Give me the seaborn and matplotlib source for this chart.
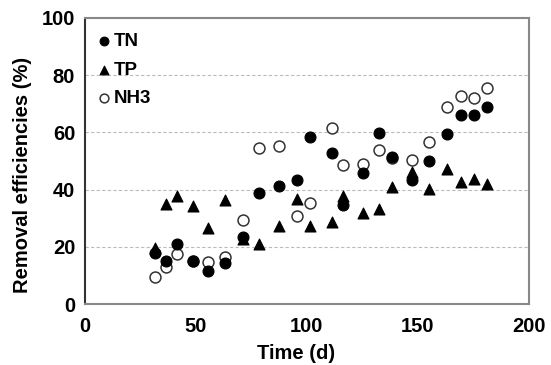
import numpy as np
import pandas as pd
import seaborn as sns
import matplotlib
matplotlib.use("Agg")
import matplotlib.pyplot as plt

time_d = [31.4, 36.5, 41.4, 48.5, 55.4, 63.3, 71.3, 78.3, 87.3, 95.4, 101.3,
          111.3, 116.3, 125.1, 132.3, 138.2, 147.2, 155.1, 163.2, 169.2, 175.2, 181.2]
tn = [18.0, 15.2, 20.9, 15.2, 11.7, 14.5, 23.4, 38.8, 41.1, 43.5, 58.3,
      52.7, 34.6, 45.7, 59.8, 51.4, 43.4, 50.0, 59.5, 66.1, 66.1, 69.0]
tp = [19.5, 35.0, 37.9, 34.4, 26.5, 36.2, 22.9, 20.9, 27.4, 36.7, 27.4,
      28.8, 37.6, 31.8, 33.3, 40.9, 46.0, 40.3, 47.3, 42.8, 43.7, 41.9]
nh3 = [9.5, 13.1, 17.4, 15.0, 14.7, 16.3, 29.3, 54.6, 55.3, 30.8, 35.3,
       61.5, 48.6, 48.9, 53.9, 51.0, 50.4, 56.5, 68.7, 72.7, 71.9, 75.5]

x_ticks = [0, 50, 100, 150, 200]
y_ticks = [0, 20, 40, 60, 80, 100]

df = pd.DataFrame({"time": time_d, "TN": tn, "TP": tp, "NH3": nh3})
long = df.melt(id_vars="time", var_name="param", value_name="eff")

sns.set_style("white")
plt.rcParams["font.family"] = ["Liberation Sans", "DejaVu Sans"]
plt.rcParams["font.weight"] = "bold"
plt.rcParams["text.color"] = "black"
plt.rcParams["axes.labelcolor"] = "black"
plt.rcParams["xtick.labelcolor"] = "black"
plt.rcParams["ytick.labelcolor"] = "black"

fs = 14.5

fig = plt.figure(figsize=(5.51, 3.65), dpi=100)
ax = fig.add_axes([0.154, 0.167, 0.806, 0.784])

styles = {
    "TN": dict(marker="o", facecolor="black", edgecolor="black", lw=0.8),
    "TP": dict(marker="^", facecolor="black", edgecolor="black", lw=0.8),
    "NH3": dict(marker="o", facecolor="white", edgecolor="#333333", lw=1.1),
}
for name in ["NH3", "TP", "TN"]:
    st = styles[name]
    sub = long[long["param"] == name]
    sns.scatterplot(data=sub, x="time", y="eff", ax=ax, marker=st["marker"],
                    s=62, color=st["facecolor"], edgecolor=st["edgecolor"],
                    linewidth=st["lw"], label=name, zorder=3)

ax.set_xlim(0, 200)
ax.set_ylim(0, 100)
ax.set_xticks(x_ticks)
ax.set_yticks(y_ticks)
ax.set_xlabel("Time (d)", fontsize=fs, fontweight="bold")
ax.set_ylabel("Removal efficiencies (%)", fontsize=fs, fontweight="bold")
ax.xaxis.set_label_coords(0.475, -0.14)
ax.yaxis.set_label_coords(-0.12, 0.45)
ax.tick_params(axis="both", labelsize=fs, length=4, width=1.0, color="#888888",
               labelcolor="black", direction="out", pad=3)
ax.tick_params(axis="x", pad=5)
for lab in ax.get_xticklabels() + ax.get_yticklabels():
    lab.set_fontweight("bold")

for y in [20, 40, 60, 80]:
    ax.axhline(y, color="#bbbbbb", lw=0.8, ls=(0, (3, 2)), zorder=1)

for side in ["top", "right", "bottom"]:
    ax.spines[side].set_color("#888888")
    ax.spines[side].set_linewidth(1.5)
ax.spines["left"].set_color("#333333")
ax.spines["left"].set_linewidth(1.5)

handles, labels = ax.get_legend_handles_labels()
order = [labels.index(n) for n in ["TN", "TP", "NH3"]]
leg = ax.legend([handles[i] for i in order], [labels[i] for i in order],
                loc="upper left", bbox_to_anchor=(-0.016, 1.007),
                frameon=False, handletextpad=0.0,
                borderaxespad=0.5, labelspacing=0.62, handlelength=1.0,
                markerscale=0.8, prop={"weight": "bold", "size": fs - 1})
for t in leg.get_texts():
    t.set_color("black")

fig.savefig("out.png", dpi=100)
